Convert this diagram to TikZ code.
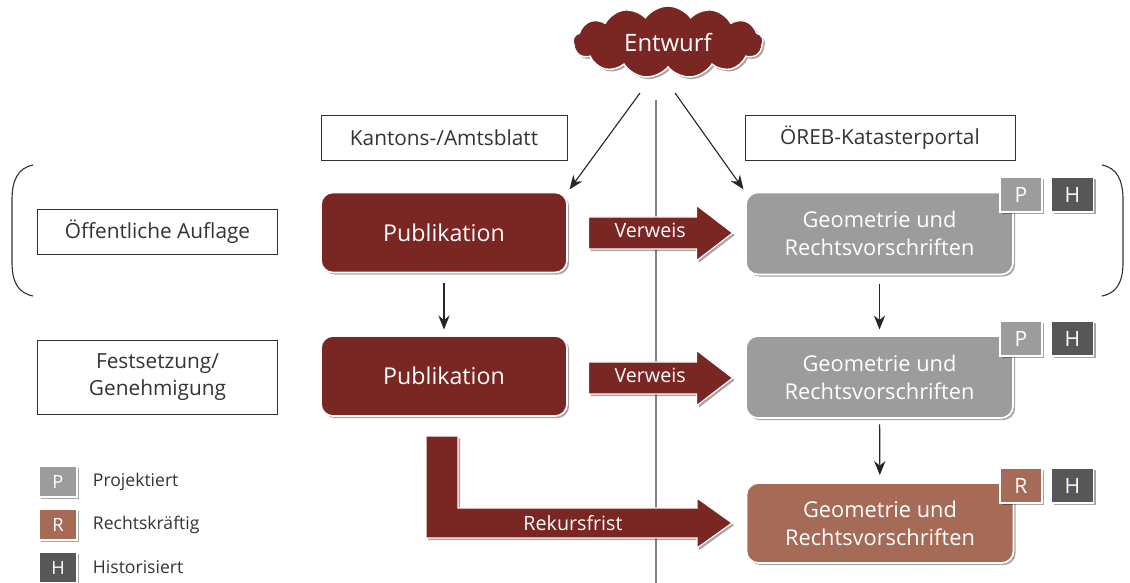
\documentclass[tikz,border=0pt]{standalone}
\usepackage{fontspec}
\setmainfont{Open Sans}
\usetikzlibrary{shapes.symbols,shapes.arrows,shadows,arrows.meta}

\definecolor{dunkelrot}{HTML}{7A2622}
\definecolor{grau}{HTML}{9C9C9C}
\definecolor{braun}{HTML}{A66B57}
\definecolor{dunkelgrau}{HTML}{575757}
\definecolor{schrift}{HTML}{333333}

\tikzset{
  schatten/.style={drop shadow={shadow xshift=1.5pt,shadow yshift=-1.5pt,opacity=0.35,fill=black}},
  kasten/.style={draw=schrift, line width=0.6pt, text=schrift, minimum width=5.98cm,
    minimum height=1.125cm, align=center, font=\fontsize{14.8}{19}\selectfont},
  block/.style={schatten, draw=white, line width=1.2pt, rounded corners=0.3cm, text=white,
    align=center, minimum height=2cm, font=\fontsize{15.5}{20}\selectfont},
  marke/.style={schatten, draw=white, line width=1pt, text=white, minimum width=1.05cm,
    minimum height=0.875cm, font=\fontsize{15}{15}\selectfont},
  verweis/.style={single arrow, schatten, fill=dunkelrot, draw=white, line width=0.8pt,
    minimum height=3.6cm, single arrow head extend=0.29cm, single arrow tip angle=75,
    text height=10pt, text depth=3pt, inner ysep=4.5pt, text=white, anchor=west,
    font=\fontsize{14}{14}\selectfont},
  pfeil/.style={-{Stealth[length=10pt,width=8pt]}, line width=0.8pt, black!85}
}

\begin{document}
\begin{tikzpicture}[x=0.025cm, y=-0.025cm]
  \useasboundingbox (0,0) rectangle (1130,583);

  % Trennlinie
  \draw[grau!85!black, line width=1pt] (656,100) -- (656,583);

  % Entwurf
  \node[cloud, cloud puffs=13, cloud puff arc=110, aspect=2.7, schatten, fill=dunkelrot,
    draw=white, line width=1pt, minimum width=4.75cm, minimum height=1.8cm, text=white,
    font=\fontsize{17}{17}\selectfont] (entwurf) at (668,42) {Entwurf};
  \coordinate (cl) at (640,93);
  \coordinate (cr) at (675,93);

  % Spaltenkoepfe
  \node[kasten, minimum width=6.15cm] (amtsblatt) at (444,137.5) {Kantons-/Amtsblatt};
  \node[kasten, minimum width=6.75cm] (portal) at (880,137.5) {ÖREB-Katasterportal};

  % Verfahrensschritte
  \node[kasten] (auflage) at (157.5,231.5) {Öffentliche Auflage};
  \node[kasten, minimum height=1.85cm] (festsetzung) at (157.5,377) {Festsetzung/\\Genehmigung};
  \draw[schrift, line width=0.8pt] (33,165) .. controls (18,168) and (12,180) .. (12,200)
    -- (12,262) .. controls (12,282) and (18,293) .. (33,296);
  \draw[schrift, line width=0.8pt] (1102,165) .. controls (1117,168) and (1123,180) .. (1123,200)
    -- (1123,262) .. controls (1123,282) and (1117,293) .. (1102,296);

  % Publikationen
  \node[block, fill=dunkelrot, minimum width=6.15cm, font=\fontsize{16.5}{20}\selectfont] (pubA)
    at (444,232.5) {Publikation};
  \node[block, fill=dunkelrot, minimum width=6.15cm, font=\fontsize{16.5}{20}\selectfont] (pubB)
    at (444,376) {Publikation};

  % Kataster
  \node[block, fill=grau, minimum width=6.675cm, minimum height=2.05cm] (geoA) at (879.5,233.5)
    {Geometrie und\\Rechtsvorschriften};
  \node[block, fill=grau, minimum width=6.675cm, minimum height=2.05cm] (geoB) at (879.5,377)
    {Geometrie und\\Rechtsvorschriften};
  \node[block, fill=braun, minimum width=6.675cm, minimum height=2.0cm] (geoC) at (880,523)
    {Geometrie und\\Rechtsvorschriften};

  \foreach \r/\y/\b/\f in {A/194.5/P/grau, B/338.5/P/grau, C/485.5/R/braun}
  {
    \node[marke, fill=\f] (stand\r) at (1021,\y) {\b};
    \node[marke, fill=dunkelgrau] (hist\r) at (1072.5,\y) {H};
  }

  % Verbindungen
  \draw[pfeil, shorten >=2pt] (cl) -- (pubA.north east);
  \draw[pfeil, shorten >=2pt] (cr) -- (geoA.north west);
  \draw[pfeil, shorten <=7pt, shorten >=4pt] (pubA) -- (pubB);
  \draw[pfeil, shorten <=6pt, shorten >=4pt] (geoA) -- (geoB);
  \draw[pfeil, shorten <=4pt, shorten >=5pt] (geoB) -- (geoC);

  \node[verweis] (verweisA) at (588,233) {Verweis};
  \node[verweis] (verweisB) at (588,378) {Verweis};

  % Rekursfrist
  \fill[dunkelrot, draw=white, line width=0.8pt, schatten] (426,436) -- (458,436) -- (458,508)
    -- (697,508) -- (697,498) -- (732,523) -- (697,548) -- (697,538) -- (426,538) -- cycle;
  \node[text=white, font=\fontsize{14}{14}\selectfont] (rekurs) at (573,523) {Rekursfrist};

  % Legende
  \foreach \b/\f/\t [count=\i] in {P/grau/Projektiert, R/braun/Rechtskräftig, H/dunkelgrau/Historisiert}
  {
    \node[marke, fill=\f, minimum width=0.95cm, minimum height=0.775cm,
      font=\fontsize{13}{13}\selectfont] (leg\b) at (58,{481.5+(\i-1)*43}) {\b};
    \node[anchor=west, text=schrift, font=\fontsize{12.5}{12.5}\selectfont] (legtext\b)
      at (88,{481.5+(\i-1)*43}) {\t};
  }
\end{tikzpicture}
\end{document}
